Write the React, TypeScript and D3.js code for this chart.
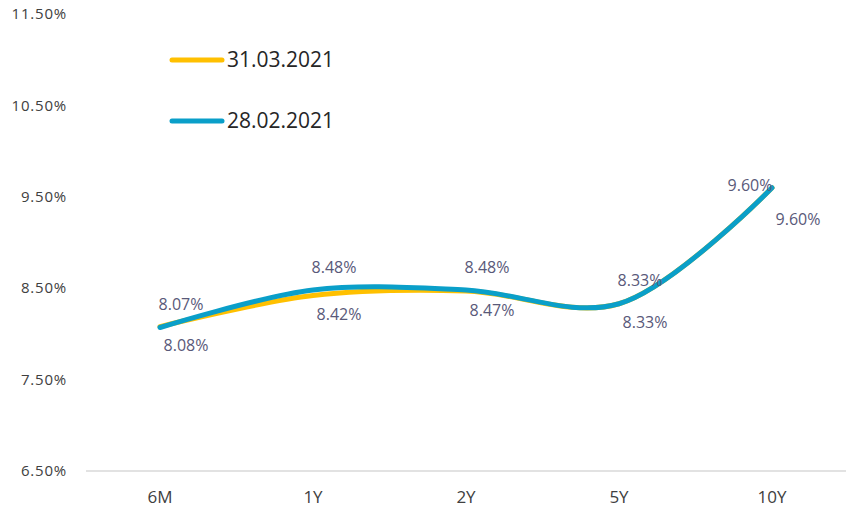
import React from "react";
import * as d3 from "d3";

const categories = ["6M", "1Y", "2Y", "5Y", "10Y"];
const march = [8.08, 8.42, 8.47, 8.33, 9.6];
const february = [8.07, 8.48, 8.48, 8.33, 9.6];
const yTicks = [6.5, 7.5, 8.5, 9.5, 10.5, 11.5];
const seriesNames = ["31.03.2021", "28.02.2021"];

const width = 846;
const height = 510;
const font = "'Open Sans', Lato, sans-serif";

const App = () => {
  const x = d3.scalePoint<string>().domain(categories).range([160, 772]);
  const y = d3.scaleLinear().domain([6.5, 11.5]).range([471, 14]);

  const line = d3
    .line<number>()
    .x((d, i) => x(categories[i]) as number)
    .y((d) => y(d))
    .curve(d3.curveCatmullRom.alpha(0.5));

  const series = [
    { name: seriesNames[0], values: march, color: "#FFC000" },
    { name: seriesNames[1], values: february, color: "#0A9FC9" },
  ];

  const fmt = (v: number) => v.toFixed(2) + "%";

  return (
    <svg
      width={width}
      height={height}
      style={{ position: "absolute", left: 0, top: 0, background: "#fff" }}
    >
      {/* y axis labels */}
      {yTicks.map((t) => (
        <text
          key={t}
          x={67}
          y={y(t)}
          dy="0.35em"
          textAnchor="end"
          fontFamily={font}
          fontSize={15}
          letterSpacing={0.8}
          fill="#404040"
        >
          {fmt(t)}
        </text>
      ))}
      <line x1={86} x2={846} y1={y(6.5)} y2={y(6.5)} stroke="#d9d9d9" strokeWidth={1.5} />
      {categories.map((c) => (
        <text
          key={c}
          x={x(c)}
          y={497}
          dy="0.35em"
          textAnchor="middle"
          fontFamily={font}
          fontSize={17}
          fill="#404040"
        >
          {c}
        </text>
      ))}

      {series.map((s) => (
        <path
          key={s.name}
          d={line(s.values) || ""}
          fill="none"
          stroke={s.color}
          strokeWidth={5}
          strokeLinecap="round"
        />
      ))}

      {/* data labels: 31.03 below right, 28.02 above right */}
      {march.map((v, i) => {
        const last = i === march.length - 1;
        return (
          <text
            key={"m" + i}
            x={(x(categories[i]) as number) + 26}
            y={y(v) + (last ? 32 : 19)}
            dy="0.35em"
            textAnchor="middle"
            fontFamily={font}
            fontSize={16}
            fill="#595979"
          >
            {fmt(v)}
          </text>
        );
      })}
      {february.map((v, i) => {
        const last = i === february.length - 1;
        return (
          <text
            key={"f" + i}
            x={(x(categories[i]) as number) + (last ? -22 : 21)}
            y={y(v) + (last ? -2 : -23)}
            dy="0.35em"
            textAnchor="middle"
            fontFamily={font}
            fontSize={16}
            fill="#595979"
          >
            {fmt(v)}
          </text>
        );
      })}

      {/* legend */}
      {series.map((s, i) => (
        <g key={s.name} transform={`translate(170,${60 + i * 61})`}>
          <line x1={2} x2={52} y1={0} y2={0} stroke={s.color} strokeWidth={5} strokeLinecap="round" />
          <text
            x={57}
            y={0}
            dy="0.35em"
            fontFamily={font}
            fontSize={21}
            fill="#262626"
          >
            {s.name}
          </text>
        </g>
      ))}
    </svg>
  );
};

export default App;
